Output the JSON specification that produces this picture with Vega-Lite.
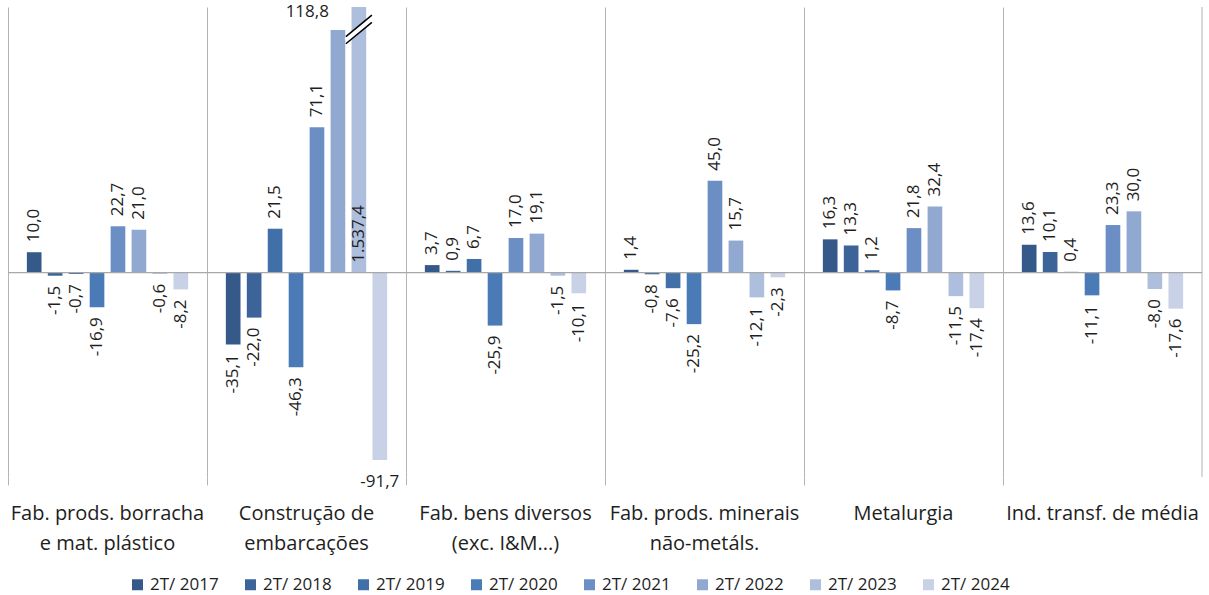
{
  "$schema": "https://vega.github.io/schema/vega-lite/v6.json",
  "width": 1194,
  "height": 470,
  "autosize": {"type": "none"},
  "padding": {"left": 8, "top": 7, "right": 7, "bottom": 118},
  "config": {
    "font": "Open Sans",
    "view": {"stroke": null}
  },
  "data": {"values": [
      {"cat": "Fab. prods. borracha e mat. plástico", "serie": "2T/ 2017", "value": 10.0},
      {"cat": "Fab. prods. borracha e mat. plástico", "serie": "2T/ 2018", "value": -1.5},
      {"cat": "Fab. prods. borracha e mat. plástico", "serie": "2T/ 2019", "value": -0.7},
      {"cat": "Fab. prods. borracha e mat. plástico", "serie": "2T/ 2020", "value": -16.9},
      {"cat": "Fab. prods. borracha e mat. plástico", "serie": "2T/ 2021", "value": 22.7},
      {"cat": "Fab. prods. borracha e mat. plástico", "serie": "2T/ 2022", "value": 21.0},
      {"cat": "Fab. prods. borracha e mat. plástico", "serie": "2T/ 2023", "value": -0.6},
      {"cat": "Fab. prods. borracha e mat. plástico", "serie": "2T/ 2024", "value": -8.2},
      {"cat": "Construção de embarcações", "serie": "2T/ 2017", "value": -35.1},
      {"cat": "Construção de embarcações", "serie": "2T/ 2018", "value": -22.0},
      {"cat": "Construção de embarcações", "serie": "2T/ 2019", "value": 21.5},
      {"cat": "Construção de embarcações", "serie": "2T/ 2020", "value": -46.3},
      {"cat": "Construção de embarcações", "serie": "2T/ 2021", "value": 71.1},
      {"cat": "Construção de embarcações", "serie": "2T/ 2022", "value": 118.8},
      {"cat": "Construção de embarcações", "serie": "2T/ 2023", "value": 1537.4},
      {"cat": "Construção de embarcações", "serie": "2T/ 2024", "value": -91.7},
      {"cat": "Fab. bens diversos (exc. I&M...)", "serie": "2T/ 2017", "value": 3.7},
      {"cat": "Fab. bens diversos (exc. I&M...)", "serie": "2T/ 2018", "value": 0.9},
      {"cat": "Fab. bens diversos (exc. I&M...)", "serie": "2T/ 2019", "value": 6.7},
      {"cat": "Fab. bens diversos (exc. I&M...)", "serie": "2T/ 2020", "value": -25.9},
      {"cat": "Fab. bens diversos (exc. I&M...)", "serie": "2T/ 2021", "value": 17.0},
      {"cat": "Fab. bens diversos (exc. I&M...)", "serie": "2T/ 2022", "value": 19.1},
      {"cat": "Fab. bens diversos (exc. I&M...)", "serie": "2T/ 2023", "value": -1.5},
      {"cat": "Fab. bens diversos (exc. I&M...)", "serie": "2T/ 2024", "value": -10.1},
      {"cat": "Fab. prods. minerais não-metáls.", "serie": "2T/ 2017", "value": 1.4},
      {"cat": "Fab. prods. minerais não-metáls.", "serie": "2T/ 2018", "value": -0.8},
      {"cat": "Fab. prods. minerais não-metáls.", "serie": "2T/ 2019", "value": -7.6},
      {"cat": "Fab. prods. minerais não-metáls.", "serie": "2T/ 2020", "value": -25.2},
      {"cat": "Fab. prods. minerais não-metáls.", "serie": "2T/ 2021", "value": 45.0},
      {"cat": "Fab. prods. minerais não-metáls.", "serie": "2T/ 2022", "value": 15.7},
      {"cat": "Fab. prods. minerais não-metáls.", "serie": "2T/ 2023", "value": -12.1},
      {"cat": "Fab. prods. minerais não-metáls.", "serie": "2T/ 2024", "value": -2.3},
      {"cat": "Metalurgia", "serie": "2T/ 2017", "value": 16.3},
      {"cat": "Metalurgia", "serie": "2T/ 2018", "value": 13.3},
      {"cat": "Metalurgia", "serie": "2T/ 2019", "value": 1.2},
      {"cat": "Metalurgia", "serie": "2T/ 2020", "value": -8.7},
      {"cat": "Metalurgia", "serie": "2T/ 2021", "value": 21.8},
      {"cat": "Metalurgia", "serie": "2T/ 2022", "value": 32.4},
      {"cat": "Metalurgia", "serie": "2T/ 2023", "value": -11.5},
      {"cat": "Metalurgia", "serie": "2T/ 2024", "value": -17.4},
      {"cat": "Ind. transf. de média", "serie": "2T/ 2017", "value": 13.6},
      {"cat": "Ind. transf. de média", "serie": "2T/ 2018", "value": 10.1},
      {"cat": "Ind. transf. de média", "serie": "2T/ 2019", "value": 0.4},
      {"cat": "Ind. transf. de média", "serie": "2T/ 2020", "value": -11.1},
      {"cat": "Ind. transf. de média", "serie": "2T/ 2021", "value": 23.3},
      {"cat": "Ind. transf. de média", "serie": "2T/ 2022", "value": 30.0},
      {"cat": "Ind. transf. de média", "serie": "2T/ 2023", "value": -8.0},
      {"cat": "Ind. transf. de média", "serie": "2T/ 2024", "value": -17.6}
  ]},
  "transform": [
    {"calculate": "replace(replace(replace(replace(format(datum.value, ',.1f'), ',', '#'), '.', ','), '#', '.'), '\u2212', '-')", "as": "label"}
  ],
  "layer": [
    {
      "mark": {"type": "bar", "clip": true},
      "encoding": {
        "x": {
          "field": "cat", "type": "nominal",
          "scale": {
            "domain": ["Fab. prods. borracha e mat. plástico", "Construção de embarcações", "Fab. bens diversos (exc. I&M...)", "Fab. prods. minerais não-metáls.", "Metalurgia", "Ind. transf. de média"],
            "paddingInner": 0, "paddingOuter": 0
          },
          "axis": {
            "title": null, "labelAngle": 0, "bandPosition": 0, "ticks": true, "tickSize": 8, "tickColor": "#B4B4B4",
            "domain": false, "grid": true, "gridColor": "#B4B4B4",
            "labelFontSize": 20, "labelColor": "#1E1E1E", "labelPadding": 18, "labelLineHeight": 30, "labelLimit": 400,
            "labelExpr": "datum.label == 'Fab. prods. borracha e mat. plástico' ? ['Fab. prods. borracha', 'e mat. plástico'] : datum.label == 'Construção de embarcações' ? ['Construção de', 'embarcações'] : datum.label == 'Fab. bens diversos (exc. I&M...)' ? ['Fab. bens diversos', '(exc. I&M...)'] : datum.label == 'Fab. prods. minerais não-metáls.' ? ['Fab. prods. minerais', 'não-metáls.'] : datum.label"
          }
        },
        "xOffset": {"field": "serie", "type": "nominal", "scale": {"paddingInner": 0.3, "paddingOuter": 0.9}},
        "y": {"field": "value", "type": "quantitative", "scale": {"domain": [-100, 130], "nice": false, "zero": false}, "axis": null},
        "color": {
          "field": "serie", "type": "nominal",
          "scale": {"range": ["#355A8A", "#3C6499", "#416FA8", "#4A7BB6", "#6B8FC4", "#91A8D0", "#AEBFDD", "#C8D1E6"]},
          "legend": {
            "title": null, "orient": "none", "direction": "horizontal", "legendX": 121, "legendY": 569,
            "symbolType": "square", "symbolSize": 121, "symbolStrokeWidth": 0, "labelFontSize": 17, "labelColor": "#1E1E1E",
            "columnPadding": 23, "labelOffset": 4, "padding": 0
          }
        }
      }
    },
    {
      "transform": [{"filter": "datum.cat == 'Ind. transf. de média' && datum.serie == '2T/ 2017'"}],
      "mark": {"type": "rule", "color": "#B4B4B4", "strokeWidth": 1},
      "encoding": {
        "x": {"field": "cat", "type": "nominal", "bandPosition": 1}
      }
    },
    {
      "transform": [{"filter": "datum.cat == 'Metalurgia' && datum.serie == '2T/ 2017'"}],
      "mark": {"type": "rule", "color": "#A8A8A8", "strokeWidth": 1.2},
      "encoding": {"y": {"datum": 0, "type": "quantitative"}}
    },
    {
      "transform": [{"filter": "datum.value >= 0 && datum.value < 100"}],
      "mark": {"type": "text", "angle": 270, "align": "left", "baseline": "middle", "dx": 10, "fontSize": 17, "color": "#1E1E1E"},
      "encoding": {
        "x": {"field": "cat", "type": "nominal"},
        "xOffset": {"field": "serie", "type": "nominal"},
        "y": {"field": "value", "type": "quantitative"},
        "text": {"field": "label", "type": "nominal"}
      }
    },
    {
      "transform": [{"filter": "datum.value < 0 && datum.value > -80"}],
      "mark": {"type": "text", "angle": 270, "align": "right", "baseline": "middle", "dx": -10, "fontSize": 17, "color": "#1E1E1E"},
      "encoding": {
        "x": {"field": "cat", "type": "nominal"},
        "xOffset": {"field": "serie", "type": "nominal"},
        "y": {"field": "value", "type": "quantitative"},
        "text": {"field": "label", "type": "nominal"}
      }
    },
    {
      "transform": [{"filter": "datum.value <= -80"}],
      "mark": {"type": "text", "align": "center", "baseline": "middle", "dy": 22, "fontSize": 17, "color": "#1E1E1E"},
      "encoding": {
        "x": {"field": "cat", "type": "nominal"},
        "xOffset": {"field": "serie", "type": "nominal"},
        "y": {"field": "value", "type": "quantitative"},
        "text": {"field": "label", "type": "nominal"}
      }
    },
    {
      "transform": [{"filter": "datum.value >= 100 && datum.value < 1000"}],
      "mark": {"type": "text", "align": "right", "baseline": "middle", "dx": -9, "dy": -18, "fontSize": 17, "color": "#1E1E1E"},
      "encoding": {
        "x": {"field": "cat", "type": "nominal"},
        "xOffset": {"field": "serie", "type": "nominal"},
        "y": {"field": "value", "type": "quantitative"},
        "text": {"field": "label", "type": "nominal"}
      }
    },
    {
      "transform": [{"filter": "datum.value >= 1000"}],
      "mark": {"type": "text", "angle": 270, "align": "left", "baseline": "middle", "dx": 10, "fontSize": 17, "color": "#1E1E1E"},
      "encoding": {
        "x": {"field": "cat", "type": "nominal"},
        "xOffset": {"field": "serie", "type": "nominal"},
        "y": {"datum": 0, "type": "quantitative"},
        "text": {"field": "label", "type": "nominal"}
      }
    },
    {
      "transform": [{"filter": "datum.value >= 1000"}],
      "mark": {"type": "point", "shape": "M -1 0.825 L 1 -0.825", "filled": false, "stroke": "#FFFFFF", "strokeWidth": 4.5, "size": 676, "opacity": 1},
      "encoding": {
        "x": {"field": "cat", "type": "nominal"},
        "xOffset": {"field": "serie", "type": "nominal"},
        "y": {"datum": 119, "type": "quantitative"}
      }
    },
    {
      "transform": [{"filter": "datum.value >= 1000"}],
      "mark": {"type": "point", "shape": "M -1 0.55 L 1 -1.1 M -1 1.1 L 1 -0.55", "filled": false, "stroke": "#000000", "strokeWidth": 1.5, "size": 676, "opacity": 1},
      "encoding": {
        "x": {"field": "cat", "type": "nominal"},
        "xOffset": {"field": "serie", "type": "nominal"},
        "y": {"datum": 119, "type": "quantitative"}
      }
    }
  ]
}
